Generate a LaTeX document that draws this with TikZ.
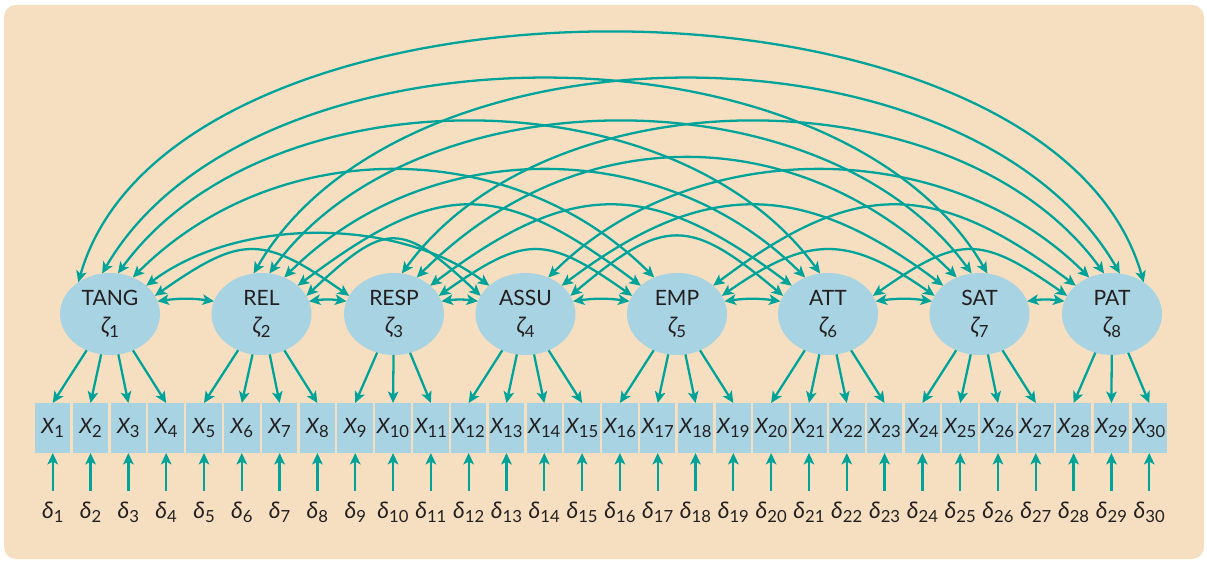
\documentclass[tikz,border=0pt]{standalone}
\usepackage{fontspec}
\setmainfont{Lato}
\usetikzlibrary{arrows.meta,shapes.geometric}

\definecolor{hintergrund}{HTML}{F5DFC0}
\definecolor{hellblau}{HTML}{A8D3E2}
\definecolor{petrol}{HTML}{00A39A}
\definecolor{schrift}{HTML}{231F20}

\newcommand{\tief}[1]{\raisebox{-0.4ex}{\fontsize{9.5}{9.5}\selectfont #1}}

\begin{document}
\begin{tikzpicture}[x=0.02cm, y=-0.02cm,
	every node/.style={font=\fontsize{12}{16}\selectfont, text=schrift},
	>={Stealth[length=6.5pt, width=6pt, inset=1.6pt]},
	latent/.style={ellipse, fill=hellblau, minimum width=2cm, minimum height=1.64cm, inner sep=0pt, outer sep=0pt, align=center},
	manifest/.style={rectangle, fill=hellblau, minimum width=0.71cm, minimum height=1cm, inner sep=0pt, outer sep=0pt},
	fehler/.style={inner xsep=0pt, inner ysep=6pt, outer sep=0pt},
	pfeil/.style={->, draw=petrol, line width=1.3pt},
	kov/.style={<->, draw=petrol, line width=1.3pt}]
		
		% Hintergrund
		\useasboundingbox (0,0) rectangle (1207,567);
		\fill[hintergrund, rounded corners=0.24cm] (4,5) rectangle (1204,559);
		
		% Latente Variablen
		\node[latent] (tang) at (110,314) {TANG\\{\fontsize{13}{13}\selectfont\itshape ζ}\tief{1}};
		\node[latent] (rel) at (261.5,314) {REL\\{\fontsize{13}{13}\selectfont\itshape ζ}\tief{2}};
		\node[latent] (resp) at (394,314) {RESP\\{\fontsize{13}{13}\selectfont\itshape ζ}\tief{3}};
		\node[latent] (assu) at (525.5,314) {ASSU\\{\fontsize{13}{13}\selectfont\itshape ζ}\tief{4}};
		\node[latent] (emp) at (677,314) {EMP\\{\fontsize{13}{13}\selectfont\itshape ζ}\tief{5}};
		\node[latent] (att) at (828,314) {ATT\\{\fontsize{13}{13}\selectfont\itshape ζ}\tief{6}};
		\node[latent] (sat) at (979.5,314) {SAT\\{\fontsize{13}{13}\selectfont\itshape ζ}\tief{7}};
		\node[latent] (pat) at (1112,314) {PAT\\{\fontsize{13}{13}\selectfont\itshape ζ}\tief{8}};
		
		% Indikatoren und Messfehler
		\foreach \i in {1,...,30} {
			\pgfmathsetmacro{\xx}{52.75+(\i-1)*37.81}
			\node[manifest] (x\i) at (\xx,428) {{\itshape X}\tief{\i}};
			\node[fehler, anchor=base] (d\i) at (\xx,518) {{\fontsize{13}{13}\selectfont\itshape δ}\tief{\i}};
			\draw[pfeil] (d\i) -- (x\i);
		}
		
		% Ladungen
		\foreach \i in {1,...,4} \draw[pfeil] (tang) -- (x\i.north);
		\foreach \i in {5,...,8} \draw[pfeil] (rel) -- (x\i.north);
		\foreach \i in {9,...,11} \draw[pfeil] (resp) -- (x\i.north);
		\foreach \i in {12,...,15} \draw[pfeil] (assu) -- (x\i.north);
		\foreach \i in {16,...,19} \draw[pfeil] (emp) -- (x\i.north);
		\foreach \i in {20,...,23} \draw[pfeil] (att) -- (x\i.north);
		\foreach \i in {24,...,27} \draw[pfeil] (sat) -- (x\i.north);
		\foreach \i in {28,...,30} \draw[pfeil] (pat) -- (x\i.north);
		
		% Kovarianzen, Nachbarn
		\draw[kov] (tang.15) to[bend left=8] (rel.165);
		\draw[kov] (rel.15) to[bend left=8] (resp.165);
		\draw[kov] (resp.15) to[bend left=8] (assu.165);
		\draw[kov] (assu.15) to[bend left=8] (emp.165);
		\draw[kov] (emp.15) to[bend left=8] (att.165);
		\draw[kov] (att.15) to[bend left=8] (sat.165);
		\draw[kov] (sat.15) to[bend left=8] (pat.165);
		
		% Kovarianzen, Abstand 2
		\draw[kov] (tang.22) .. controls +(87,-61) and +(-87,-61) .. (resp.158);
		\draw[kov] (rel.22) .. controls +(80,-75) and +(-80,-75) .. (assu.158);
		\draw[kov] (resp.22) .. controls +(87,-61) and +(-87,-61) .. (emp.158);
		\draw[kov] (assu.22) .. controls +(94,-79) and +(-94,-79) .. (att.158);
		\draw[kov] (emp.22) .. controls +(87,-61) and +(-87,-61) .. (sat.158);
		\draw[kov] (att.22) .. controls +(87,-61) and +(-87,-61) .. (pat.158);
		
		% Abstand 3
		\draw[kov] (tang.38) .. controls +(92,-69) and +(-92,-69) .. (assu.142);
		\draw[kov] (rel.38) .. controls +(142,-107) and +(-142,-107) .. (emp.142);
		\draw[kov] (resp.38) .. controls +(142,-107) and +(-142,-107) .. (att.142);
		\draw[kov] (assu.38) .. controls +(142,-107) and +(-142,-107) .. (sat.142);
		\draw[kov] (emp.38) .. controls +(142,-107) and +(-142,-107) .. (pat.142);
		
		% Abstand 4
		\draw[kov] (tang.58) .. controls +(143,-143) and +(-143,-143) .. (emp.122);
		\draw[kov] (rel.58) .. controls +(143,-143) and +(-143,-143) .. (att.122);
		\draw[kov] (resp.58) .. controls +(159,-159) and +(-159,-159) .. (sat.122);
		\draw[kov] (assu.58) .. controls +(143,-143) and +(-143,-143) .. (pat.122);
		
		% Abstand 5
		\draw[kov] (tang.79) .. controls +(147,-202) and +(-147,-202) .. (att.101);
		\draw[kov] (rel.79) .. controls +(147,-202) and +(-147,-202) .. (sat.101);
		\draw[kov] (resp.79) .. controls +(147,-202) and +(-147,-202) .. (pat.101);
		
		% Abstand 6 und 7
		\draw[kov] (tang.101) .. controls +(150,-259) and +(-150,-259) .. (sat.79);
		\draw[kov] (rel.101) .. controls +(150,-259) and +(-150,-259) .. (pat.79);
		\draw[kov] (tang.135) .. controls +(95,-332) and +(-95,-332) .. (pat.45);
		
	\end{tikzpicture}
\end{document}
